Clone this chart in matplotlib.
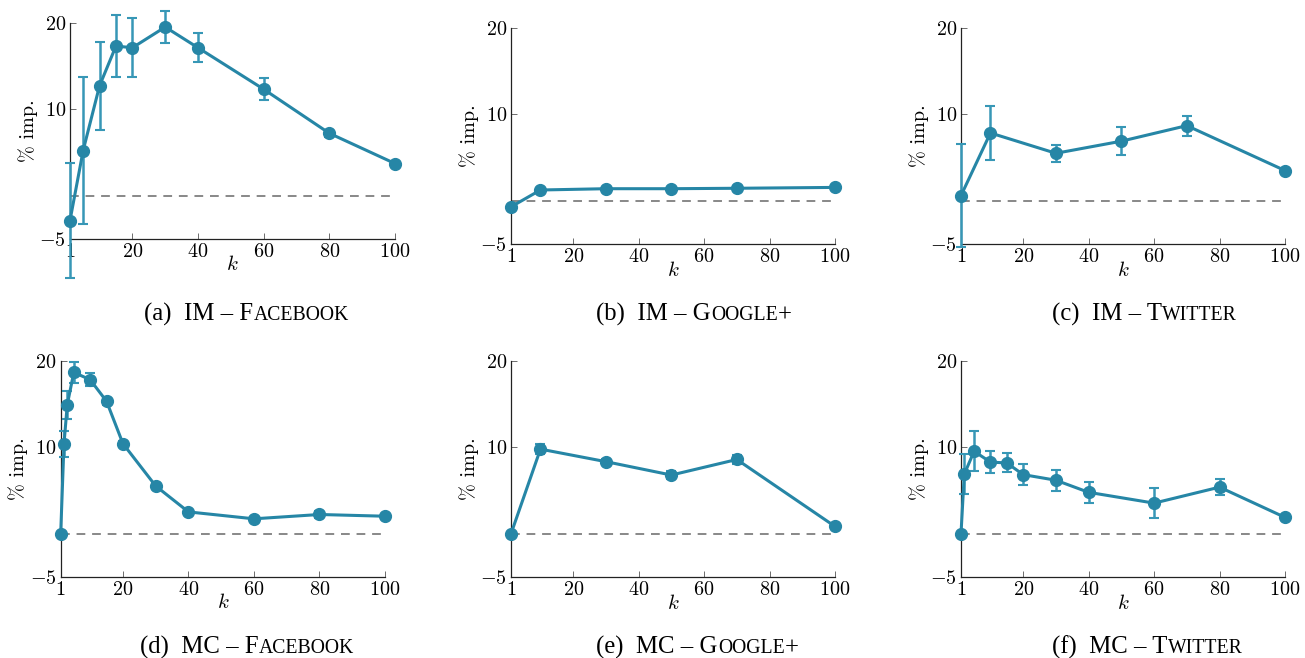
import numpy as np
import matplotlib
matplotlib.use("Agg")
import matplotlib.pyplot as plt

plt.rcParams['font.family'] = 'serif'
plt.rcParams['font.serif'] = ['cmr10', 'DejaVu Serif']
plt.rcParams['mathtext.fontset'] = 'cm'
plt.rcParams['axes.formatter.use_mathtext'] = True

# dados (k, % de melhora, erro)
k_a = [1, 5, 10, 15, 20, 30, 40, 60, 80, 100]
y_a = [-2.9, 5.2, 12.7, 17.3, 17.1, 19.5, 17.1, 12.3, 7.2, 3.7]
e_a = [6.7, 8.5, 5.1, 3.6, 3.4, 1.9, 1.7, 1.3, 0.4, 0.2]

k_b = [1, 10, 30, 50, 70, 100]
y_b = [-0.7, 1.25, 1.4, 1.4, 1.45, 1.55]
e_b = [0.1, 0.1, 0.1, 0.1, 0.1, 0.1]

k_c = [1, 10, 30, 50, 70, 100]
y_c = [0.6, 7.85, 5.5, 6.9, 8.7, 3.5]
e_c = [6.0, 3.1, 1.0, 1.6, 1.15, 0.2]

k_d = [1, 2, 3, 5, 10, 15, 20, 30, 40, 60, 80, 100]
y_d = [0.0, 10.35, 14.9, 18.65, 17.8, 15.3, 10.4, 5.5, 2.5, 1.7, 2.2, 2.0]
e_d = [0.1, 1.5, 1.6, 1.25, 0.75, 0.4, 0.3, 0.3, 0.2, 0.2, 0.4, 0.2]

k_e = [1, 10, 30, 50, 70, 100]
y_e = [0.0, 9.8, 8.35, 6.8, 8.6, 0.85]
e_e = [0.1, 0.6, 0.3, 0.5, 0.5, 0.2]

k_f = [1, 2, 5, 10, 15, 20, 30, 40, 60, 80, 100]
y_f = [0.0, 6.9, 9.55, 8.3, 8.2, 6.85, 6.2, 4.8, 3.55, 5.4, 1.9]
e_f = [0.1, 2.3, 2.3, 1.3, 1.1, 1.2, 1.2, 1.25, 1.7, 0.95, 0.2]

# legendas: (prefixo, versalete, sufixo)
captions = [
    ("(a)  IM \u2013 F", "ACEBOOK", ""),
    ("(b)  IM \u2013 G", "OOGLE", "+"),
    ("(c)  IM \u2013 T", "WITTER", ""),
    ("(d)  MC \u2013 F", "ACEBOOK", ""),
    ("(e)  MC \u2013 G", "OOGLE", "+"),
    ("(f)  MC \u2013 T", "WITTER", ""),
]

W, H = 1305, 658
# caixas dos eixos em pixels: esquerda, direita, topo, base
boxes = [
    (70, 395, 22.7, 238.7),
    (511, 835, 28, 244),
    (961, 1285, 28, 244),
    (60.7, 385, 360.7, 576.7),
    (511, 835, 361, 577),
    (961, 1285, 361, 577),
]
cap_pos = [(144, 321), (596, 321), (1052, 321), (140, 654), (596, 654), (1052, 654)]

series = [(k_a, y_a, e_a), (k_b, y_b, e_b), (k_c, y_c, e_c),
          (k_d, y_d, e_d), (k_e, y_e, e_e), (k_f, y_f, e_f)]

cor = '#2686a6'
cor_err = '#3797b6'

fig = plt.figure(figsize=(W / 100, H / 100), dpi=100)

for i in range(6):
    l, r, t, b = boxes[i]
    ax = fig.add_axes([l / W, 1 - b / H, (r - l) / W, (b - t) / H])
    k, y, e = series[i]
    ax.axhline(0, color='#888888', lw=1.4, ls=(0, (4.5, 3.5)), zorder=1)
    ax.errorbar(k, y, yerr=e, color=cor, ecolor=cor_err, lw=2.2, elinewidth=1.8,
                capsize=3.5, capthick=1.5, marker='o', ms=8.5, clip_on=False, zorder=3)
    ax.set_xlim(1, 100)
    ax.set_ylim(-5, 20)
    ax.set_xticks([1, 20, 40, 60, 80, 100])
    ax.set_yticks([-5, 10, 20])
    for s in ['top', 'right']:
        ax.spines[s].set_visible(False)
    for s in ['left', 'bottom']:
        ax.spines[s].set_linewidth(0.9)
        ax.spines[s].set_color('#222222')
    ax.tick_params(direction='in', length=4, width=0.6, color='#555555',
                   labelsize=14.5, pad=3)
    ax.set_xlabel('$k$', fontsize=15, labelpad=-4)
    ax.set_ylabel('% imp.', fontsize=14.5, labelpad=1)

    # legenda da subfigura com versalete
    x0, y0 = cap_pos[i]
    p1, p2, p3 = captions[i]
    t1 = fig.text(x0 / W, 1 - y0 / H, p1, fontsize=17.8, family='Liberation Serif',
                  va='baseline', ha='left')
    t2 = ax.annotate(p2, xy=(1, 0), xycoords=t1, fontsize=14.2, family='Liberation Serif',
                     va='bottom', ha='left', xytext=(0.3, 0.7), textcoords='offset points',
                     annotation_clip=False)
    if p3:
        ax.annotate(p3, xy=(1, 0), xycoords=t2, fontsize=17.8, family='Liberation Serif',
                    va='bottom', ha='left', xytext=(0, -0.7), textcoords='offset points',
                    annotation_clip=False)

fig.savefig('out.png', dpi=100)
